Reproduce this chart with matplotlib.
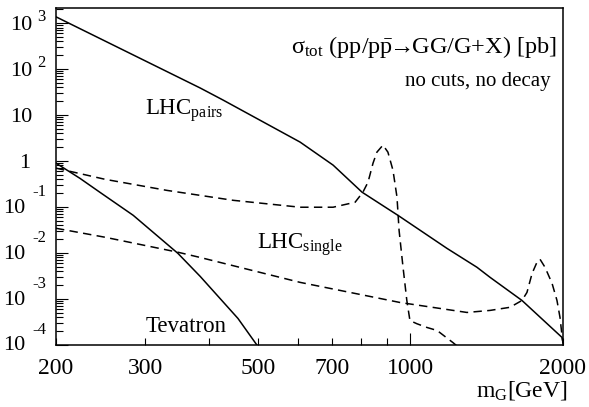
import matplotlib
matplotlib.use("Agg")
import matplotlib.pyplot as plt
import matplotlib.transforms as mtransforms
from matplotlib.ticker import FixedLocator, NullFormatter

plt.rcParams['font.family'] = ['Liberation Serif', 'DejaVu Serif']
plt.rcParams['mathtext.fontset'] = 'custom'
plt.rcParams['mathtext.rm'] = 'Liberation Serif'
plt.rcParams['mathtext.it'] = 'Liberation Serif:italic'

# graviton mass [GeV] vs total cross section [pb]
mass_pairs = [200, 385, 427, 606, 704, 803, 899, 945, 1181, 1353, 1436, 1660, 1991, 2000]
xsec_pairs = [1365, 38.7, 21.2, 2.58, 0.815, 0.21, 0.094, 0.066, 0.0126,
              4.9e-3, 2.96e-3, 9.3e-4, 1.46e-4, 1.13e-4]

mass_tev = [200, 223, 244, 284, 348, 385, 457, 498]
xsec_tev = [0.90, 0.42, 0.21, 0.066, 9.8e-3, 3.1e-3, 3.78e-4, 1.0e-4]

mass_single1 = [200, 250, 331, 447, 606, 704, 778, 806, 825, 844, 859, 883, 903, 924,
                941, 950, 967, 984, 998, 1030, 1079, 1129, 1213, 1260]
xsec_single1 = [0.70, 0.40, 0.23, 0.14, 0.099, 0.099, 0.127, 0.21, 0.347, 0.90, 1.56,
                2.22, 1.56, 0.63, 0.164, 0.031, 5e-3, 9.3e-4, 3.4e-4, 2.9e-4, 2.4e-4,
                2.07e-4, 1.13e-4, 8e-5]

mass_single2 = [200, 250, 348, 385, 606, 954, 1293, 1436, 1572, 1660, 1698, 1738, 1777,
                1802, 1843, 1903, 1946, 1973, 1991, 2000]
xsec_single2 = [0.0345, 0.022, 0.0104, 8.0e-3, 2.3e-3, 8.4e-4, 5.1e-4, 5.65e-4, 6.6e-4,
                9.3e-4, 1.39e-3, 3.6e-3, 6.3e-3, 7.3e-3, 4.9e-3, 2.19e-3, 9.3e-4,
                3.97e-4, 1.6e-4, 1.08e-4]

xlabels = [200, 300, 500, 700, 1000, 2000]
xminor = [400, 600, 800, 900]
ydecades = [-4, -3, -2, -1, 0, 1, 2, 3]

W, H = 589, 407
fig = plt.figure(figsize=(W / 100, H / 100), dpi=100)
ax = fig.add_axes([56 / W, 1 - 345 / H, (563 - 56) / W, (345 - 8) / H])
ax.set_xscale('log')
ax.set_yscale('log')
ax.set_xlim(200, 2000)
ax.set_ylim(1e-4, 2124)

dash = (0, (5.5, 3.5))
ax.plot(mass_pairs, xsec_pairs, color='black', lw=1.1)
ax.plot(mass_tev, xsec_tev, color='black', lw=1.1)
ax.plot(mass_single1, xsec_single1, color='black', lw=1.1, ls=dash)
ax.plot(mass_single2, xsec_single2, color='black', lw=1.1, ls=dash)

for s in ax.spines.values():
    s.set_linewidth(1.1)

# x axis: 1000 gets a long tick, the rest short ones
ax.xaxis.set_major_locator(FixedLocator([1000]))
ax.xaxis.set_minor_locator(FixedLocator([200, 300, 400, 500, 600, 700, 800, 900, 2000]))
ax.set_xticklabels(['1000'])
ax.set_xticklabels(['200', '300', '', '500', '', '700', '', '', '2000'], minor=True)
ax.tick_params(axis='x', which='both', direction='in', labelsize=17, pad=9, top=False)
ax.tick_params(axis='x', which='major', length=8.6, width=0.8)
ax.tick_params(axis='x', which='minor', length=5, width=0.8)

# y axis: decades long, 2..9 short, labels drawn by hand below
ax.yaxis.set_major_locator(FixedLocator([10.0 ** d for d in ydecades]))
ax.yaxis.set_minor_locator(FixedLocator([k * 10.0 ** d for d in ydecades for k in range(2, 10)]))
ax.yaxis.set_major_formatter(NullFormatter())
ax.yaxis.set_minor_formatter(NullFormatter())
ax.tick_params(axis='y', which='both', direction='in', right=False)
ax.tick_params(axis='y', which='major', length=8.6, width=0.8)
ax.tick_params(axis='y', which='minor', length=5, width=0.8)

ytrans = mtransforms.blended_transform_factory(fig.transFigure, ax.transData)
for d in ydecades:
    v = 10.0 ** d
    if d == 0:
        t = mtransforms.offset_copy(ytrans, fig=fig, y=-2, units='dots')
        fig.text(30 / W, v, '1', transform=t, ha='right', va='center', fontsize=16)
    elif d == 1:
        t = mtransforms.offset_copy(ytrans, fig=fig, y=-2, units='dots')
        fig.text(32 / W, v, '10', transform=t, ha='right', va='center', fontsize=16)
    elif d > 1:
        t = mtransforms.offset_copy(ytrans, fig=fig, y=-2, units='dots')
        fig.text(32 / W, v, '10', transform=t, ha='right', va='center', fontsize=16)
        t2 = mtransforms.offset_copy(ytrans, fig=fig, y=6, units='dots')
        fig.text(37 / W, v, str(d), transform=t2, ha='left', va='center', fontsize=12)
    else:
        t = mtransforms.offset_copy(ytrans, fig=fig, y=-1, units='dots')
        fig.text(25 / W, v, '10', transform=t, ha='right', va='center', fontsize=16)
        t2 = mtransforms.offset_copy(ytrans, fig=fig, y=15.5, units='dots')
        fig.text(32 / W, v, str(d), transform=t2, ha='left', va='center', fontsize=12)

fig.text(568 / W, 1 - 397 / H, r'm$_{\rm G}$[GeV]', ha='right', va='baseline', fontsize=17)

ax.text(300, 10, r'LHC$_{\rm pairs}$', ha='left', va='baseline', fontsize=16.5)
ax.text(498, 0.0126, r'LHC$_{\rm single}$', ha='left', va='baseline', fontsize=16.5)
ax.text(301, 1.87e-4, 'Tevatron', ha='left', va='baseline', fontsize=16.5)

ax.text(0.988, 0.865,
        r'$\mathrm{\sigma}_{\rm tot}$ (pp/p$\bar{\rm p}\!\!\rightarrow\!\!$GG/G+X) [pb]',
        transform=ax.transAxes, ha='right', va='baseline', fontsize=17.5)
ax.text(0.975, 0.77, 'no cuts, no decay', transform=ax.transAxes,
        ha='right', va='baseline', fontsize=15)

fig.savefig('out.png', dpi=100)
